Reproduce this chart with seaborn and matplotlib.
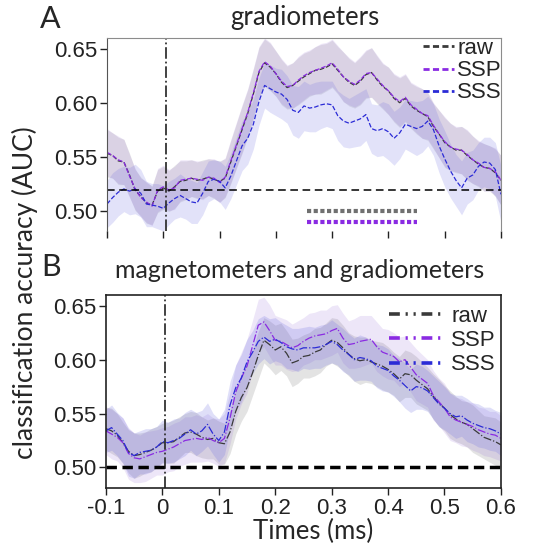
import numpy as np
import pandas as pd
import matplotlib
matplotlib.use("Agg")
import matplotlib.pyplot as plt
from matplotlib.lines import Line2D
import seaborn as sns

# time axis (s), 10 ms steps
times = [round(-0.10 + 0.01 * i, 2) for i in range(71)]

# panel A: gradiometers
grad_raw = [0.553, 0.551, 0.546, 0.545, 0.533, 0.519, 0.513, 0.507, 0.505, 0.518,
            0.521, 0.518, 0.522, 0.527, 0.528, 0.530, 0.528, 0.529, 0.531, 0.529,
            0.527, 0.530, 0.545, 0.560, 0.575, 0.590, 0.608, 0.628, 0.637, 0.633,
            0.627, 0.619, 0.614, 0.616, 0.620, 0.624, 0.627, 0.630, 0.631, 0.633,
            0.636, 0.630, 0.624, 0.619, 0.616, 0.620, 0.626, 0.628, 0.621, 0.615,
            0.611, 0.604, 0.600, 0.604, 0.597, 0.593, 0.590, 0.587, 0.578, 0.571,
            0.563, 0.559, 0.556, 0.556, 0.551, 0.547, 0.543, 0.540, 0.539, 0.535,
            0.528]
grad_ssp = [0.554, 0.551, 0.547, 0.545, 0.532, 0.520, 0.512, 0.508, 0.504, 0.519,
            0.522, 0.519, 0.521, 0.528, 0.529, 0.530, 0.529, 0.528, 0.531, 0.530,
            0.526, 0.531, 0.546, 0.561, 0.576, 0.591, 0.609, 0.629, 0.638, 0.634,
            0.627, 0.620, 0.615, 0.616, 0.621, 0.625, 0.628, 0.630, 0.632, 0.634,
            0.637, 0.631, 0.624, 0.620, 0.617, 0.621, 0.627, 0.628, 0.622, 0.616,
            0.611, 0.605, 0.601, 0.605, 0.598, 0.594, 0.590, 0.588, 0.579, 0.571,
            0.564, 0.559, 0.557, 0.556, 0.552, 0.547, 0.544, 0.540, 0.539, 0.536,
            0.528]
grad_sss = [0.506, 0.512, 0.517, 0.520, 0.518, 0.520, 0.516, 0.506, 0.505, 0.504,
            0.502, 0.507, 0.511, 0.514, 0.511, 0.508, 0.507, 0.516, 0.527, 0.529,
            0.527, 0.521, 0.532, 0.546, 0.560, 0.567, 0.580, 0.601, 0.616, 0.613,
            0.610, 0.608, 0.603, 0.593, 0.591, 0.597, 0.595, 0.596, 0.598, 0.599,
            0.598, 0.588, 0.583, 0.581, 0.583, 0.585, 0.589, 0.576, 0.574, 0.576,
            0.573, 0.567, 0.572, 0.580, 0.578, 0.576, 0.578, 0.583, 0.575, 0.560,
            0.548, 0.537, 0.528, 0.521, 0.530, 0.533, 0.541, 0.545, 0.544, 0.538,
            0.515]
grad_raw_ci = [0.022, 0.021, 0.022, 0.021, 0.020, 0.019, 0.018, 0.019, 0.018, 0.020,
               0.020, 0.019, 0.020, 0.019, 0.018, 0.017, 0.017, 0.018, 0.017, 0.018,
               0.019, 0.018, 0.020, 0.021, 0.022, 0.022, 0.023, 0.023, 0.022, 0.022,
               0.021, 0.021, 0.020, 0.021, 0.022, 0.022, 0.021, 0.022, 0.023, 0.022,
               0.022, 0.022, 0.023, 0.022, 0.021, 0.022, 0.022, 0.023, 0.022, 0.021,
               0.022, 0.022, 0.023, 0.022, 0.021, 0.022, 0.023, 0.022, 0.021, 0.022,
               0.023, 0.022, 0.021, 0.022, 0.023, 0.022, 0.021, 0.022, 0.021, 0.022,
               0.023]
grad_sss_ci = [0.022, 0.023, 0.022, 0.021, 0.022, 0.023, 0.022, 0.021, 0.020, 0.021,
               0.021, 0.020, 0.019, 0.020, 0.019, 0.020, 0.019, 0.020, 0.019, 0.018,
               0.019, 0.020, 0.021, 0.022, 0.023, 0.024, 0.023, 0.022, 0.021, 0.022,
               0.022, 0.023, 0.022, 0.023, 0.024, 0.023, 0.022, 0.023, 0.022, 0.021,
               0.022, 0.023, 0.024, 0.023, 0.024, 0.025, 0.024, 0.023, 0.024, 0.025,
               0.026, 0.025, 0.024, 0.023, 0.024, 0.025, 0.024, 0.023, 0.024, 0.025,
               0.026, 0.025, 0.024, 0.025, 0.024, 0.023, 0.022, 0.023, 0.024, 0.025,
               0.026]
grad_chance = 0.519
sig_start, sig_end = 0.255, 0.450
sig_raw_level, sig_ssp_level = 0.4995, 0.4895

# panel B: magnetometers and gradiometers
all_raw = [0.536, 0.534, 0.530, 0.523, 0.515, 0.511, 0.512, 0.514, 0.516, 0.519,
           0.523, 0.523, 0.524, 0.528, 0.532, 0.533, 0.531, 0.528, 0.526, 0.527,
           0.523, 0.522, 0.533, 0.552, 0.565, 0.574, 0.588, 0.604, 0.618, 0.614,
           0.609, 0.612, 0.606, 0.597, 0.599, 0.603, 0.604, 0.607, 0.609, 0.614,
           0.618, 0.616, 0.611, 0.605, 0.601, 0.599, 0.600, 0.598, 0.596, 0.594,
           0.591, 0.587, 0.582, 0.587, 0.586, 0.581, 0.577, 0.573, 0.566, 0.560,
           0.555, 0.549, 0.545, 0.542, 0.540, 0.536, 0.532, 0.528, 0.526, 0.524,
           0.521]
all_ssp = [0.534, 0.531, 0.528, 0.523, 0.513, 0.509, 0.508, 0.510, 0.512, 0.514,
           0.515, 0.517, 0.519, 0.522, 0.525, 0.526, 0.527, 0.526, 0.528, 0.525,
           0.523, 0.527, 0.546, 0.570, 0.583, 0.594, 0.613, 0.632, 0.635, 0.627,
           0.618, 0.617, 0.614, 0.611, 0.613, 0.617, 0.620, 0.622, 0.623, 0.624,
           0.627, 0.629, 0.620, 0.614, 0.615, 0.617, 0.618, 0.619, 0.612, 0.607,
           0.605, 0.603, 0.598, 0.600, 0.593, 0.586, 0.582, 0.578, 0.567, 0.561,
           0.555, 0.547, 0.544, 0.542, 0.540, 0.538, 0.535, 0.533, 0.531, 0.530,
           0.527]
all_sss = [0.534, 0.537, 0.531, 0.525, 0.514, 0.511, 0.514, 0.515, 0.516, 0.519,
           0.524, 0.523, 0.525, 0.527, 0.531, 0.535, 0.531, 0.534, 0.540, 0.531,
           0.525, 0.533, 0.558, 0.574, 0.583, 0.598, 0.607, 0.617, 0.621, 0.617,
           0.619, 0.616, 0.612, 0.610, 0.609, 0.611, 0.611, 0.611, 0.612, 0.614,
           0.617, 0.614, 0.609, 0.605, 0.600, 0.602, 0.601, 0.599, 0.594, 0.592,
           0.590, 0.585, 0.581, 0.576, 0.571, 0.575, 0.574, 0.571, 0.565, 0.559,
           0.555, 0.550, 0.547, 0.548, 0.544, 0.541, 0.539, 0.537, 0.536, 0.534,
           0.531]
all_raw_ci = [0.020, 0.021, 0.020, 0.019, 0.020, 0.021, 0.020, 0.019, 0.020, 0.019,
              0.018, 0.019, 0.020, 0.019, 0.018, 0.019, 0.020, 0.019, 0.018, 0.019,
              0.020, 0.019, 0.020, 0.021, 0.022, 0.022, 0.021, 0.022, 0.021, 0.022,
              0.023, 0.022, 0.021, 0.022, 0.021, 0.020, 0.021, 0.022, 0.021, 0.020,
              0.021, 0.022, 0.021, 0.020, 0.021, 0.022, 0.021, 0.020, 0.021, 0.022,
              0.021, 0.020, 0.021, 0.022, 0.021, 0.022, 0.021, 0.020, 0.021, 0.022,
              0.021, 0.022, 0.021, 0.020, 0.021, 0.022, 0.021, 0.020, 0.021, 0.022,
              0.021]
all_ssp_ci = [0.022, 0.023, 0.022, 0.023, 0.024, 0.023, 0.022, 0.023, 0.022, 0.021,
              0.022, 0.021, 0.022, 0.021, 0.022, 0.021, 0.022, 0.021, 0.022, 0.021,
              0.022, 0.023, 0.024, 0.025, 0.024, 0.025, 0.024, 0.024, 0.023, 0.024,
              0.023, 0.022, 0.023, 0.022, 0.023, 0.022, 0.023, 0.022, 0.023, 0.022,
              0.023, 0.022, 0.023, 0.022, 0.023, 0.024, 0.023, 0.022, 0.023, 0.022,
              0.023, 0.022, 0.023, 0.022, 0.023, 0.024, 0.023, 0.022, 0.023, 0.022,
              0.023, 0.022, 0.021, 0.022, 0.021, 0.022, 0.021, 0.022, 0.021, 0.022,
              0.021]
all_sss_ci = [0.020, 0.021, 0.020, 0.021, 0.022, 0.021, 0.020, 0.021, 0.020, 0.019,
              0.020, 0.019, 0.020, 0.019, 0.020, 0.019, 0.020, 0.019, 0.020, 0.019,
              0.020, 0.021, 0.022, 0.021, 0.022, 0.021, 0.020, 0.021, 0.020, 0.021,
              0.020, 0.019, 0.020, 0.019, 0.020, 0.019, 0.020, 0.019, 0.020, 0.019,
              0.020, 0.019, 0.020, 0.019, 0.020, 0.021, 0.020, 0.019, 0.020, 0.021,
              0.020, 0.019, 0.020, 0.021, 0.020, 0.021, 0.020, 0.019, 0.020, 0.021,
              0.020, 0.019, 0.020, 0.019, 0.020, 0.019, 0.020, 0.019, 0.020, 0.019,
              0.020]
all_chance = 0.50

onset = 0.005
labels = ["raw", "SSP", "SSS"]
x_ticks = [-0.1, 0, 0.1, 0.2, 0.3, 0.4, 0.5, 0.6]
x_ticklabels = ["-0.1", "0", "0.1", "0.2", "0.3", "0.4", "0.5", "0.6"]
y_ticks = [0.50, 0.55, 0.60, 0.65]

line_colors = {"raw": "#3a3a3a", "SSP": "#8a2be2", "SSS": "#2b2bd6"}
band_colors = {"raw": "#909090", "SSP": "#8a5ad0", "SSS": "#6060e0"}

sns.set_style("ticks")
TICK_FONT = ["Liberation Sans", "DejaVu Sans"]
LABEL_FONT = ["Lato", "DejaVu Sans"]

fig = plt.figure(figsize=(5.35, 5.47), dpi=100)
ax_a = fig.add_axes([0.200, 0.5777, 0.7364, 0.3528])
ax_b = fig.add_axes([0.198, 0.1079, 0.7383, 0.3528])


def draw_panel(ax, series, cis, style, band_alpha):
    for name, vals, ci in zip(labels, series, cis):
        lo = np.array(vals) - np.array(ci)
        hi = np.array(vals) + np.array(ci)
        ax.fill_between(times, lo, hi, color=band_colors[name], alpha=band_alpha[name], lw=0)
    for name, vals in zip(labels, series):
        df = pd.DataFrame({"t": times, "auc": vals})
        sns.lineplot(data=df, x="t", y="auc", ax=ax, color=line_colors[name],
                     lw=0.9, linestyle=style, errorbar=None)
    ax.set_xlim(-0.1, 0.6)
    ax.set_ylim(0.481, 0.66)
    ax.set_xticks(x_ticks)
    ax.set_yticks(y_ticks)
    ax.set_yticklabels([f"{v:.2f}" for v in y_ticks], family=TICK_FONT, fontsize=16)
    ax.set_xlabel("")
    ax.set_ylabel("")
    ax.tick_params(direction="out", length=5, width=1, colors="#222222", pad=2)
    ax.axvline(onset, color="#333333", lw=1.3, linestyle="-.")


draw_panel(ax_a, [grad_raw, grad_ssp, grad_sss],
           [grad_raw_ci, grad_raw_ci, grad_sss_ci], "--",
           {"raw": 0.2, "SSP": 0.15, "SSS": 0.18})
ax_a.axhline(grad_chance, color="black", lw=1.1, linestyle=(0, (5, 3)))
ax_a.plot([sig_start, sig_end], [sig_raw_level, sig_raw_level], color="#707070",
          lw=3, linestyle=(0, (1, 0.6)), solid_capstyle="butt", dash_capstyle="butt")
ax_a.plot([sig_start, sig_end], [sig_ssp_level, sig_ssp_level], color="#8a2be2",
          lw=3, linestyle=(0, (1, 0.6)), solid_capstyle="butt", dash_capstyle="butt")
ax_a.set_xticklabels([])
for s in ["top", "right", "left", "bottom"]:
    ax_a.spines[s].set_color("#8c8c8c")
ax_a.spines["left"].set_color("#555555")
ax_a.spines["bottom"].set_visible(False)

draw_panel(ax_b, [all_raw, all_ssp, all_sss],
           [all_raw_ci, all_ssp_ci, all_sss_ci], "-.",
           {"raw": 0.25, "SSP": 0.15, "SSS": 0.2})
ax_b.axhline(all_chance, color="black", lw=2.5, linestyle=(0, (3, 1.6)))
ax_b.set_xticklabels(x_ticklabels, family=TICK_FONT, fontsize=16)
for s in ["top", "right", "left", "bottom"]:
    ax_b.spines[s].set_color("#222222")
    ax_b.spines[s].set_linewidth(1.2)

handles_a = [Line2D([], [], color=line_colors[n], lw=2, linestyle=(0, (2.2, 1.2))) for n in labels]
ax_a.legend(handles_a, labels, loc="upper right", frameon=False, handlelength=1.4,
            handletextpad=0.15, labelspacing=0.05, borderaxespad=0.0,
            bbox_to_anchor=(1.025, 1.045),
            prop={"family": TICK_FONT, "size": 16})
handles_b = [Line2D([], [], color=line_colors[n], lw=2.6, linestyle=(0, (3, 1.6, 0.6, 1.6, 0.6, 1.6)))
             for n in labels]
ax_b.legend(handles_b, labels, loc="upper right", frameon=False, handlelength=2.4,
            handletextpad=0.4, labelspacing=0.15, borderaxespad=0.0,
            bbox_to_anchor=(1.01, 0.99),
            prop={"family": TICK_FONT, "size": 16})

fig.text(305 / 535, 1 - 18 / 547, "gradiometers", ha="center", va="center",
         family=LABEL_FONT, fontsize=18.5)
fig.text(300 / 535, 1 - 271 / 547, "magnetometers and gradiometers", ha="center", va="center",
         family=LABEL_FONT, fontsize=18)
fig.text(50 / 535, 1 - 19 / 547, "A", ha="center", va="center", family=LABEL_FONT, fontsize=22)
fig.text(51 / 535, 1 - 267 / 547, "B", ha="center", va="center", family=LABEL_FONT, fontsize=22)
fig.text(25 / 535, 1 - 293 / 547, "classification accuracy (AUC)", rotation=90,
         ha="center", va="center", family=LABEL_FONT, fontsize=19)
fig.text(313 / 535, 1 - 531 / 547, "Times (ms)", ha="center", va="center",
         family=LABEL_FONT, fontsize=18.5)

fig.savefig("out.png", dpi=100)
